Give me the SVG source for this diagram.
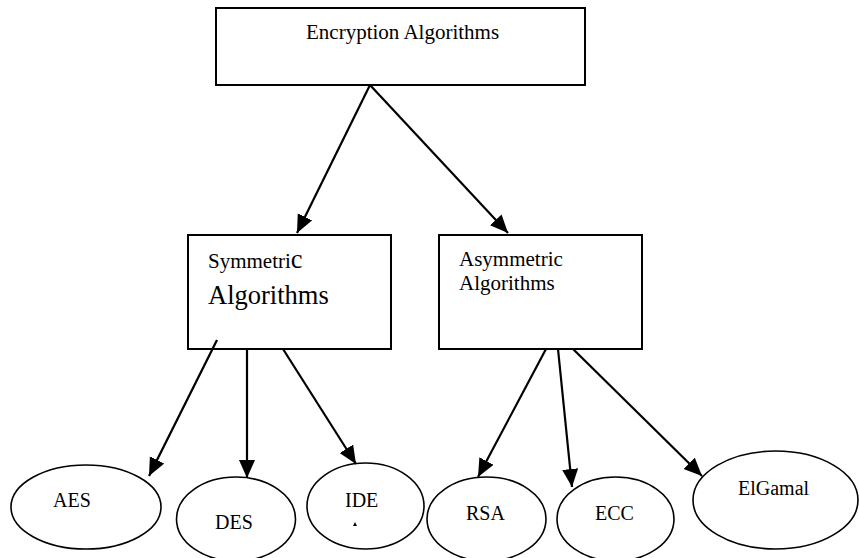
<svg xmlns="http://www.w3.org/2000/svg" width="859" height="558" viewBox="0 0 859 558">
<style>
.box{fill:#fff;stroke:#000;stroke-width:2}
.ell{fill:#fff;stroke:#000;stroke-width:1.6}
.t{font-family:"Liberation Serif","Times New Roman",serif;font-size:20px;fill:#000}
.m{font-size:21px}
.big{font-size:26.5px}
.edge{stroke:#000;stroke-width:2.2;fill:none}
</style>
<defs>
<marker id="arr" markerUnits="userSpaceOnUse" markerWidth="19" markerHeight="17" refX="18" refY="8" orient="auto">
<path d="M0,0 L18,8 L0,16 z" fill="#000"/>
</marker>
</defs>
<rect width="859" height="558" fill="#fff"/>
<g id="encryption">
<rect class="box" x="216" y="8" width="369" height="77"/>
<text class="t m" x="306" y="39">Encryption Algorithms</text>
</g>
<g id="symmetric">
<rect class="box" x="188" y="235" width="203" height="114"/>
<text class="t m" x="208" y="268">Symmetri<tspan class="big">c</tspan></text>
<text class="t big" x="208" y="304">Algorithms</text>
</g>
<g id="asymmetric">
<rect class="box" x="439" y="235" width="203" height="114"/>
<text class="t m" x="459" y="266">Asymmetric</text>
<text class="t m" x="459" y="290">Algorithms</text>
</g>
<g id="aes">
<ellipse class="ell" cx="86" cy="507" rx="75" ry="42"/>
<text class="t" x="53" y="507">AES</text>
</g>
<g id="des">
<ellipse class="ell" cx="236" cy="519" rx="59.5" ry="42"/>
<text class="t" x="215" y="529">DES</text>
</g>
<g id="ide">
<ellipse class="ell" cx="365.5" cy="506" rx="58.5" ry="43"/>
<text class="t" x="345" y="507">IDE</text>
<polygon points="353,526 355,522 357,526" fill="#000"/>
</g>
<g id="rsa">
<ellipse class="ell" cx="486.5" cy="519" rx="59.5" ry="42"/>
<text class="t" x="466" y="520">RSA</text>
</g>
<g id="ecc">
<ellipse class="ell" cx="615.5" cy="519" rx="58.5" ry="42"/>
<text class="t" x="595" y="520">ECC</text>
</g>
<g id="elgamal">
<ellipse class="ell" cx="775.5" cy="500" rx="82.5" ry="49"/>
<text class="t" x="738" y="495">ElGamal</text>
</g>
<g id="connectors">
<line class="edge" x1="370" y1="85" x2="297" y2="233" marker-end="url(#arr)"/>
<line class="edge" x1="370" y1="85" x2="508" y2="233" marker-end="url(#arr)"/>
<line class="edge" x1="217" y1="340" x2="149" y2="476" marker-end="url(#arr)"/>
<line class="edge" x1="247" y1="349" x2="247" y2="478" marker-end="url(#arr)"/>
<line class="edge" x1="283" y1="349" x2="356" y2="464" marker-end="url(#arr)"/>
<line class="edge" x1="546" y1="349" x2="478" y2="477" marker-end="url(#arr)"/>
<line class="edge" x1="558" y1="349" x2="572" y2="487" marker-end="url(#arr)"/>
<line class="edge" x1="573" y1="349" x2="702" y2="476" marker-end="url(#arr)"/>
</g>
</svg>
